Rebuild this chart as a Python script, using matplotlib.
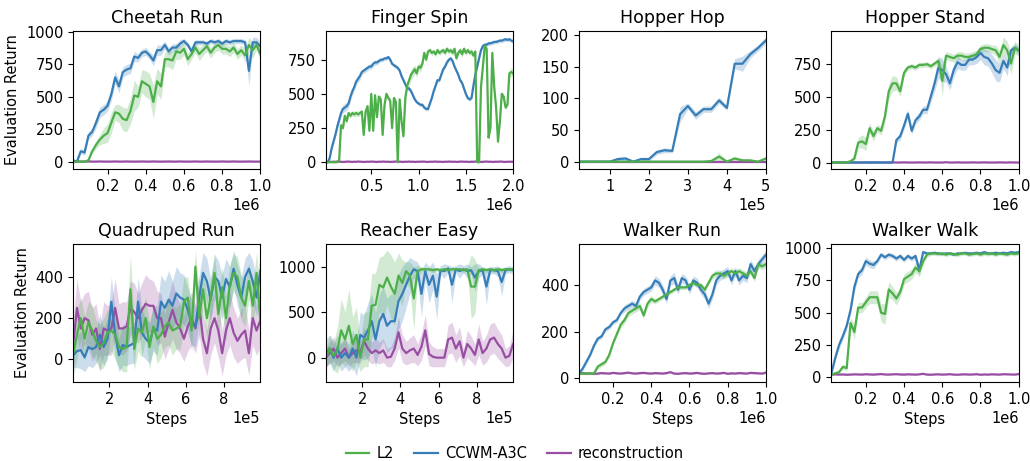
import numpy as np
import matplotlib.pyplot as plt
from matplotlib.ticker import MultipleLocator

# colours for the three methods
C_L2 = '#4daf4a'
C_CCWM = '#377eb8'
C_REC = '#984ea3'

# training steps of each environment
steps_1m = np.arange(1, 51) * 2e4          # 0.02e6 .. 1e6
steps_2m = np.arange(1, 101) * 2e4         # 0.02e6 .. 2e6
steps_hop = np.arange(1, 26) * 2e4         # 0.2e5 .. 5e5
steps_q = np.arange(1e4, 1e6, 2e4)         # 0.1e5 .. 9.9e5

# ---- Cheetah Run ----
cheetah_ccwm = [10, 0, 80, 70, 200, 230, 300, 380, 400, 430, 520, 650, 580, 690, 710, 720, 810, 800, 840, 850,
                820, 780, 860, 860, 900, 850, 880, 880, 910, 930, 900, 850, 920, 920, 920, 910, 930, 920, 930, 910,
                930, 920, 930, 930, 930, 920, 700, 920, 920, 890]
cheetah_ccwm_sd = [10, 10, 20, 20, 30, 30, 40, 40, 40, 40, 50, 50, 50, 40, 40, 40, 40, 30, 30, 30,
                   30, 40, 40, 40, 30, 30, 30, 30, 30, 20, 20, 30, 20, 20, 20, 20, 20, 20, 20, 20,
                   20, 20, 20, 20, 20, 20, 120, 40, 40, 30]
cheetah_l2 = [0, 0, 0, 0, 10, 80, 130, 170, 200, 220, 300, 380, 370, 330, 320, 390, 510, 500, 620, 600,
              580, 460, 620, 580, 790, 790, 780, 850, 840, 870, 790, 830, 880, 830, 860, 890, 840, 880, 900, 870,
              870, 850, 880, 830, 860, 820, 900, 860, 900, 830]
cheetah_l2_sd = [2, 2, 2, 2, 5, 20, 30, 40, 60, 70, 80, 60, 70, 90, 90, 100, 120, 80, 90, 100,
                 100, 130, 100, 100, 60, 60, 70, 60, 50, 50, 50, 40, 40, 50, 40, 40, 40, 40, 40, 40,
                 40, 40, 40, 40, 40, 50, 60, 60, 40, 50]
cheetah_rec = [0, 1, 0, 0, 1, 0, 0, 1, 0, 0, 0, 1, 0, 0, 1, 0, 0, 0, 1, 0,
               0, 1, 0, 0, 0, 1, 0, 0, 1, 0, 0, 0, 1, 0, 0, 1, 0, 0, 0, 1,
               0, 0, 1, 0, 0, 0, 1, 0, 0, 0]
cheetah_rec_sd = [2, 2, 2, 2, 2, 2, 2, 2, 2, 2, 2, 2, 2, 2, 2, 2, 2, 2, 2, 2,
                  2, 2, 2, 2, 2, 2, 2, 2, 2, 2, 2, 2, 2, 2, 2, 2, 2, 2, 2, 2,
                  2, 2, 2, 2, 2, 2, 2, 2, 2, 2]

# ---- Finger Spin ----
finger_ccwm = [0, 0, 30, 100, 150, 200, 260, 310, 360, 390, 400, 410, 430, 480, 520, 550, 590, 610, 630, 660,
               670, 680, 690, 700, 700, 720, 730, 730, 740, 750, 750, 760, 760, 770, 750, 720, 710, 700, 690, 670,
               630, 600, 570, 540, 540, 520, 490, 460, 440, 430, 420, 420, 400, 390, 390, 430, 470, 520, 560, 600,
               600, 640, 680, 700, 730, 750, 760, 740, 700, 670, 640, 600, 580, 540, 500, 470, 460, 470, 560, 640,
               700, 760, 820, 850, 860, 860, 870, 870, 875, 880, 880, 885, 890, 890, 895, 900, 895, 900, 890, 885]
finger_ccwm_sd = [0, 0, 10, 15, 20, 20, 25, 30, 30, 30, 30, 30, 30, 30, 25, 25, 25, 25, 25, 20,
                  20, 20, 20, 20, 20, 20, 20, 20, 15, 15, 15, 15, 15, 15, 15, 15, 15, 15, 15, 15,
                  15, 15, 15, 15, 15, 15, 15, 15, 15, 15, 15, 15, 15, 15, 15, 15, 15, 15, 15, 15,
                  15, 15, 15, 15, 15, 15, 15, 15, 15, 15, 15, 15, 15, 15, 15, 15, 15, 15, 15, 15,
                  15, 15, 15, 15, 15, 15, 15, 15, 15, 15, 15, 15, 15, 15, 15, 15, 15, 15, 15, 15]
finger_l2 = [0, 0, 0, 0, 0, 0, 0, 10, 270, 250, 340, 300, 360, 340, 360, 350, 360, 350, 360, 370,
             200, 370, 410, 230, 500, 230, 490, 330, 480, 460, 200, 420, 500, 470, 450, 250, 470, 440, 0, 460,
             300, 190, 470, 560, 600, 640, 660, 680, 650, 700, 690, 720, 800, 750, 810, 820, 800, 810, 790, 820,
             800, 810, 820, 800, 830, 810, 820, 800, 830, 760, 800, 820, 790, 830, 800, 820, 800, 810, 780, 810,
             0, 0, 550, 700, 850, 830, 180, 250, 800, 550, 400, 150, 300, 500, 480, 400, 420, 650, 660, 650]
finger_l2_sd = [0, 0, 0, 0, 0, 0, 0, 5, 20, 20, 20, 20, 20, 20, 20, 20, 20, 20, 20, 20,
                30, 20, 20, 30, 20, 30, 20, 20, 20, 20, 30, 20, 20, 20, 20, 20, 20, 20, 5, 20,
                20, 20, 30, 30, 40, 40, 40, 30, 30, 30, 30, 20, 20, 20, 20, 20, 20, 20, 20, 20,
                20, 20, 20, 20, 20, 20, 20, 20, 20, 20, 20, 20, 20, 20, 20, 20, 20, 20, 20, 20,
                5, 5, 20, 20, 20, 20, 20, 20, 20, 20, 20, 30, 20, 20, 20, 20, 20, 30, 30, 30]
finger_rec = [0, 2, 3, 2, 4, 3, 5, 4, 3, 2, 3, 4, 5, 3, 2, 4, 3, 5, 4, 3,
              2, 3, 4, 3, 5, 4, 3, 2, 4, 3, 5, 4, 3, 4, 2, 3, 4, 5, 3, 4,
              3, 2, 4, 3, 5, 3, 4, 2, 3, 4, 3, 5, 4, 3, 2, 4, 3, 4, 5, 3,
              4, 3, 2, 4, 3, 5, 4, 3, 4, 2, 3, 4, 5, 3, 4, 3, 2, 4, 3, 5,
              4, 3, 2, 3, 4, 5, 3, 4, 2, 3, 4, 3, 5, 4, 3, 2, 4, 3, 4, 3]
finger_rec_sd = [2, 2, 2, 2, 2, 2, 2, 2, 2, 2, 2, 2, 2, 2, 2, 2, 2, 2, 2, 2,
                 2, 2, 2, 2, 2, 2, 2, 2, 2, 2, 2, 2, 2, 2, 2, 2, 2, 2, 2, 2,
                 2, 2, 2, 2, 2, 2, 2, 2, 2, 2, 2, 2, 2, 2, 2, 2, 2, 2, 2, 2,
                 2, 2, 2, 2, 2, 2, 2, 2, 2, 2, 2, 2, 2, 2, 2, 2, 2, 2, 2, 2,
                 2, 2, 2, 2, 2, 2, 2, 2, 2, 2, 2, 2, 2, 2, 2, 2, 2, 2, 2, 2]

# ---- Hopper Hop ----
hop_ccwm = [0, 0, 0, 0, 0, 4, 5, 0, 4, 4, 15, 18, 17, 75, 88, 73, 83, 83, 97, 85, 155, 155, 170, 180, 192]
hop_ccwm_sd = [0, 0, 0, 0, 0, 3, 3, 2, 3, 3, 4, 4, 3, 12, 5, 6, 5, 5, 5, 4, 8, 12, 6, 5, 5]
hop_l2 = [0, 0, 0, 0, 0, 0, 0, 0, 0, 0, 0, 0, 0, 0, 0, 0, 0, 1, 8, 0, 5, 2, 2, 0, 5]
hop_l2_sd = [0, 0, 0, 0, 0, 0, 0, 0, 0, 0, 0, 0, 0, 0, 0, 0, 0, 1, 6, 1, 3, 3, 2, 1, 2]
hop_rec = [0, 0, 0, 0, 0, 0, 0, 0, 0, 0, 0, 0, 0, 0, 0, 0, 0, 0, 0, 0, 0, 0, 0, 0, 0]
hop_rec_sd = [0, 0, 0, 0, 0, 0, 0, 0, 0, 0, 0, 0, 0, 0, 0, 0, 0, 0, 0, 0, 0, 0, 0, 0, 0]

# ---- Hopper Stand ----
stand_ccwm = [0, 0, 0, 0, 0, 0, 0, 0, 0, 0, 0, 0, 0, 0, 0, 0, 0, 170, 200, 280,
              370, 240, 320, 350, 400, 400, 500, 600, 720, 700, 670, 600, 700, 760, 740, 740, 780, 780, 800, 830,
              800, 790, 750, 700, 680, 770, 720, 850, 870, 850]
stand_ccwm_sd = [3, 3, 3, 3, 3, 3, 3, 3, 3, 3, 3, 3, 3, 3, 3, 3, 3, 20, 30, 30,
                 30, 30, 30, 30, 30, 30, 40, 60, 80, 90, 60, 50, 50, 50, 40, 40, 40, 40, 50, 50,
                 60, 60, 70, 80, 70, 60, 60, 30, 30, 30]
stand_l2 = [0, 0, 0, 0, 0, 10, 30, 150, 160, 140, 260, 200, 260, 240, 350, 540, 600, 600, 540, 680,
            720, 730, 720, 740, 740, 745, 730, 750, 770, 620, 810, 800, 790, 810, 810, 800, 800, 810, 820, 860,
            870, 870, 860, 850, 800, 890, 850, 750, 870, 850]
stand_l2_sd = [3, 3, 3, 3, 3, 10, 20, 40, 50, 50, 40, 40, 30, 30, 50, 60, 60, 50, 40, 30,
               20, 20, 20, 20, 20, 20, 20, 20, 30, 120, 30, 30, 30, 30, 30, 30, 30, 30, 30, 30,
               30, 30, 30, 40, 50, 60, 70, 80, 50, 40]
stand_rec = [0, 0, 1, 0, 0, 1, 0, 0, 0, 1, 0, 0, 1, 0, 0, 0, 1, 0, 0, 1,
             0, 0, 0, 1, 0, 0, 1, 0, 0, 0, 2, 0, 0, 1, 0, 0, 0, 1, 0, 0,
             1, 0, 0, 0, 1, 0, 0, 1, 0, 0]
stand_rec_sd = [2, 2, 2, 2, 2, 2, 2, 2, 2, 2, 2, 2, 2, 2, 2, 2, 2, 2, 2, 2,
                2, 2, 2, 2, 2, 2, 2, 2, 2, 2, 2, 2, 2, 2, 2, 2, 2, 2, 2, 2,
                2, 2, 2, 2, 2, 2, 2, 2, 2, 2]

# ---- Quadruped Run ----
quad_ccwm = [20, 40, 45, 10, 60, 50, 60, 120, 60, 100, 280, 120, 20, 70, 60, 70, 80, 280, 130, 100,
             80, 150, 140, 280, 250, 290, 260, 320, 300, 290, 240, 180, 160, 300, 420, 380, 290, 400, 380, 300,
             390, 350, 440, 360, 300, 400, 440, 380, 300, 430]
quad_ccwm_sd = [60, 80, 90, 70, 90, 90, 80, 100, 90, 100, 120, 110, 80, 100, 90, 90, 100, 120, 110, 100,
                100, 110, 120, 130, 130, 140, 120, 130, 120, 120, 110, 110, 100, 110, 100, 110, 100, 110, 100, 110,
                100, 100, 90, 100, 100, 90, 80, 100, 90, 80]
quad_l2 = [30, 120, 200, 100, 180, 140, 90, 60, 80, 130, 140, 120, 60, 50, 60, 340, 50, 150, 130, 200,
           60, 160, 100, 120, 160, 180, 140, 150, 160, 280, 300, 140, 450, 200, 340, 200, 300, 420, 220, 350,
           200, 360, 420, 400, 300, 260, 380, 260, 420, 190]
quad_l2_sd = [110, 120, 100, 110, 100, 120, 100, 110, 120, 110, 100, 120, 100, 110, 120, 170, 100, 110, 120, 100,
              110, 100, 120, 110, 100, 110, 120, 100, 110, 120, 100, 110, 80, 110, 100, 110, 100, 90, 110, 100,
              110, 100, 90, 100, 110, 100, 90, 110, 100, 110]
quad_rec = [70, 250, 150, 200, 190, 120, 150, 50, 150, 140, 150, 250, 150, 150, 160, 250, 230, 200, 240, 270,
            260, 260, 200, 200, 110, 180, 240, 180, 150, 100, 160, 200, 150, 260, 100, 30, 150, 200, 140, 30,
            140, 200, 130, 90, 120, 140, 30, 200, 140, 190]
quad_rec_sd = [120, 140, 130, 120, 140, 130, 120, 110, 130, 120, 130, 140, 120, 130, 120, 130, 140, 120, 130, 140,
               130, 120, 130, 120, 110, 130, 140, 130, 120, 110, 120, 130, 120, 140, 120, 110, 130, 120, 130, 110,
               120, 130, 120, 110, 120, 130, 110, 130, 120, 130]

# ---- Reacher Easy ----
reach_ccwm = [50, 100, 0, 100, 0, 50, 0, 100, 0, 250, 220, 300, 400, 200, 400, 480, 350, 400, 400, 620,
              700, 800, 900, 970, 950, 700, 950, 800, 900, 670, 960, 950, 980, 800, 970, 950, 970, 950, 960, 880,
              950, 960, 780, 960, 960, 950, 830, 960, 970, 960]
reach_ccwm_sd = [150, 150, 150, 150, 150, 150, 150, 200, 200, 250, 250, 300, 300, 300, 300, 300, 300, 300, 300, 300,
                 300, 250, 200, 100, 100, 250, 100, 200, 150, 250, 50, 80, 40, 200, 40, 80, 40, 80, 40, 150,
                 80, 40, 200, 40, 40, 60, 150, 40, 40, 40]
reach_l2 = [0, 100, 20, 80, 300, 200, 350, 150, 250, 0, 200, 200, 570, 580, 800, 770, 880, 780, 700, 900,
            820, 950, 900, 650, 950, 970, 970, 970, 960, 970, 960, 970, 960, 970, 970, 970, 960, 970, 780, 780,
            960, 970, 960, 970, 960, 970, 960, 970, 970, 970]
reach_l2_sd = [100, 150, 150, 250, 350, 300, 400, 300, 300, 150, 300, 300, 350, 350, 300, 350, 300, 350, 350, 250,
               250, 100, 150, 350, 60, 30, 20, 20, 30, 20, 30, 20, 30, 20, 20, 20, 30, 20, 350, 300,
               30, 20, 30, 20, 30, 20, 30, 20, 20, 20]
reach_rec = [0, 50, 100, 0, 50, 100, 0, 50, 80, 60, 180, 100, 50, 80, 50, 80, 0, 10, 100, 280,
             100, 50, 80, 100, 30, 120, 300, 40, 10, 0, 0, 0, 200, 220, 100, 180, 0, 150, 100, 30,
             200, 50, 100, 200, 220, 150, 100, 0, 20, 150]
reach_rec_sd = [100, 120, 130, 100, 120, 130, 100, 110, 130, 120, 150, 130, 120, 130, 120, 130, 100, 110, 130, 170,
                150, 130, 140, 150, 120, 150, 170, 130, 110, 100, 100, 100, 160, 170, 150, 160, 100, 150, 140, 120,
                170, 130, 150, 170, 170, 160, 150, 100, 110, 150]

# ---- Walker Run ----
wrun_ccwm = [20, 40, 70, 100, 140, 170, 180, 210, 220, 240, 250, 280, 300, 310, 320, 310, 350, 370, 380, 390,
             420, 410, 380, 340, 420, 430, 380, 430, 420, 380, 420, 410, 380, 360, 320, 360, 420, 440, 450, 460,
             420, 460, 420, 440, 430, 490, 460, 490, 510, 530]
wrun_ccwm_sd = [10, 10, 10, 10, 10, 10, 10, 10, 10, 10, 10, 10, 15, 15, 15, 15, 15, 15, 15, 15,
                20, 20, 20, 20, 20, 25, 20, 20, 20, 20, 20, 20, 20, 20, 20, 20, 20, 20, 20, 20,
                20, 20, 20, 20, 20, 20, 20, 20, 20, 20]
wrun_l2 = [20, 20, 20, 20, 20, 50, 60, 70, 100, 150, 190, 230, 250, 280, 290, 300, 310, 270, 320, 340,
           330, 340, 350, 360, 370, 380, 390, 390, 390, 400, 410, 400, 400, 380, 410, 440, 450, 450, 440, 450,
           460, 450, 460, 450, 440, 460, 430, 490, 480, 490]
wrun_l2_sd = [5, 5, 5, 5, 5, 10, 10, 10, 10, 10, 10, 15, 15, 15, 15, 15, 15, 15, 15, 15,
              10, 10, 10, 10, 10, 10, 10, 10, 10, 10, 10, 10, 10, 10, 10, 15, 15, 15, 15, 15,
              15, 15, 15, 15, 15, 15, 15, 15, 15, 15]
wrun_rec = [20, 22, 20, 21, 19, 20, 22, 21, 20, 23, 21, 20, 22, 24, 21, 20, 22, 23, 21, 20,
            22, 21, 20, 22, 26, 20, 19, 21, 22, 20, 21, 23, 20, 19, 21, 22, 20, 21, 23, 19,
            21, 20, 22, 21, 20, 23, 22, 21, 20, 24]
wrun_rec_sd = [4, 4, 4, 4, 4, 4, 4, 4, 4, 4, 4, 4, 4, 4, 4, 4, 4, 4, 4, 4,
               4, 4, 4, 4, 4, 4, 4, 4, 4, 4, 4, 4, 4, 4, 4, 4, 4, 4, 4, 4,
               4, 4, 4, 4, 4, 4, 4, 4, 4, 4]

# ---- Walker Walk ----
wwalk_ccwm = [30, 150, 250, 320, 400, 520, 700, 800, 830, 900, 880, 870, 900, 950, 930, 950, 940, 920, 940, 910,
              940, 920, 940, 830, 970, 960, 960, 965, 960, 955, 960, 960, 950, 960, 960, 965, 960, 960, 965, 960,
              970, 960, 960, 965, 960, 965, 960, 970, 965, 970]
wwalk_ccwm_sd = [10, 20, 30, 30, 30, 30, 40, 30, 30, 30, 30, 30, 20, 20, 20, 20, 20, 20, 20, 20,
                 20, 20, 20, 40, 15, 10, 10, 10, 10, 10, 10, 10, 10, 10, 10, 10, 10, 10, 10, 10,
                 10, 10, 10, 10, 10, 10, 10, 10, 10, 10]
wwalk_l2 = [20, 30, 40, 80, 70, 420, 350, 540, 540, 580, 620, 620, 620, 500, 490, 680, 650, 610, 660, 760,
            780, 800, 850, 820, 900, 950, 960, 960, 955, 960, 950, 960, 955, 950, 960, 960, 950, 955, 960, 950,
            960, 955, 960, 950, 960, 955, 950, 960, 955, 960]
wwalk_l2_sd = [10, 10, 10, 20, 20, 40, 60, 40, 40, 40, 50, 50, 50, 70, 80, 60, 50, 50, 40, 40,
               40, 40, 40, 40, 30, 20, 15, 15, 15, 15, 15, 15, 15, 15, 15, 15, 15, 15, 15, 15,
               15, 15, 15, 15, 15, 15, 15, 15, 15, 15]
wwalk_rec = [20, 22, 20, 21, 19, 20, 22, 21, 20, 23, 21, 20, 22, 24, 21, 20, 22, 23, 21, 20,
             22, 21, 20, 22, 26, 20, 19, 21, 22, 20, 21, 23, 20, 19, 21, 22, 20, 21, 23, 19,
             21, 20, 22, 21, 20, 23, 22, 21, 20, 24]
wwalk_rec_sd = [4, 4, 4, 4, 4, 4, 4, 4, 4, 4, 4, 4, 4, 4, 4, 4, 4, 4, 4, 4,
                4, 4, 4, 4, 4, 4, 4, 4, 4, 4, 4, 4, 4, 4, 4, 4, 4, 4, 4, 4,
                4, 4, 4, 4, 4, 4, 4, 4, 4, 4]

panels = [
    ('Cheetah Run', steps_1m, cheetah_l2, cheetah_l2_sd, cheetah_ccwm, cheetah_ccwm_sd, cheetah_rec, cheetah_rec_sd),
    ('Finger Spin', steps_2m, finger_l2, finger_l2_sd, finger_ccwm, finger_ccwm_sd, finger_rec, finger_rec_sd),
    ('Hopper Hop', steps_hop, hop_l2, hop_l2_sd, hop_ccwm, hop_ccwm_sd, hop_rec, hop_rec_sd),
    ('Hopper Stand', steps_1m, stand_l2, stand_l2_sd, stand_ccwm, stand_ccwm_sd, stand_rec, stand_rec_sd),
    ('Quadruped Run', steps_q, quad_l2, quad_l2_sd, quad_ccwm, quad_ccwm_sd, quad_rec, quad_rec_sd),
    ('Reacher Easy', steps_q, reach_l2, reach_l2_sd, reach_ccwm, reach_ccwm_sd, reach_rec, reach_rec_sd),
    ('Walker Run', steps_1m, wrun_l2, wrun_l2_sd, wrun_ccwm, wrun_ccwm_sd, wrun_rec, wrun_rec_sd),
    ('Walker Walk', steps_1m, wwalk_l2, wwalk_l2_sd, wwalk_ccwm, wwalk_ccwm_sd, wwalk_rec, wwalk_rec_sd),
]

# tick spacing (x, y) per panel
tick_steps = [(2e5, 250), (5e5, 250), (1e5, 50), (2e5, 250),
              (2e5, 200), (2e5, 500), (2e5, 200), (2e5, 250)]

plt.rcParams['font.size'] = 10.5

fig, axes = plt.subplots(2, 4, figsize=(10.3, 4.61), dpi=100)
fig.subplots_adjust(left=0.071, right=0.989, top=0.933, bottom=0.171, wspace=0.35, hspace=0.54)

handles = {}
for ax, (title, x, l2, l2_sd, cc, cc_sd, rec, rec_sd), (xs, ys) in zip(axes.flat, panels, tick_steps):
    series = [('reconstruction', rec, rec_sd, C_REC),
              ('CCWM-A3C', cc, cc_sd, C_CCWM),
              ('L2', l2, l2_sd, C_L2)]
    for name, m, sd, col in series:
        m = np.array(m, dtype=float)
        sd = np.array(sd, dtype=float)
        line, = ax.plot(x, m, color=col, lw=1.6)
        ax.fill_between(x, m - sd, m + sd, color=col, alpha=0.25, lw=0)
        handles[name] = line
    ax.set_title(title, fontsize=12.5)
    ax.set_xlim(x[0], x[-1])
    ax.xaxis.set_major_locator(MultipleLocator(xs))
    ax.yaxis.set_major_locator(MultipleLocator(ys))
    ax.ticklabel_format(axis='x', style='sci', scilimits=(0, 0))

for ax in axes[:, 0]:
    ax.set_ylabel('Evaluation Return')
for ax in axes[1, :]:
    ax.set_xlabel('Steps')

order = ['L2', 'CCWM-A3C', 'reconstruction']
fig.legend([handles[n] for n in order], order, loc='center', ncol=3,
           frameon=False, bbox_to_anchor=(0.5, 0.016),
           handlelength=1.6, handletextpad=0.5, columnspacing=1.4)

fig.savefig('out.png', dpi=100)
